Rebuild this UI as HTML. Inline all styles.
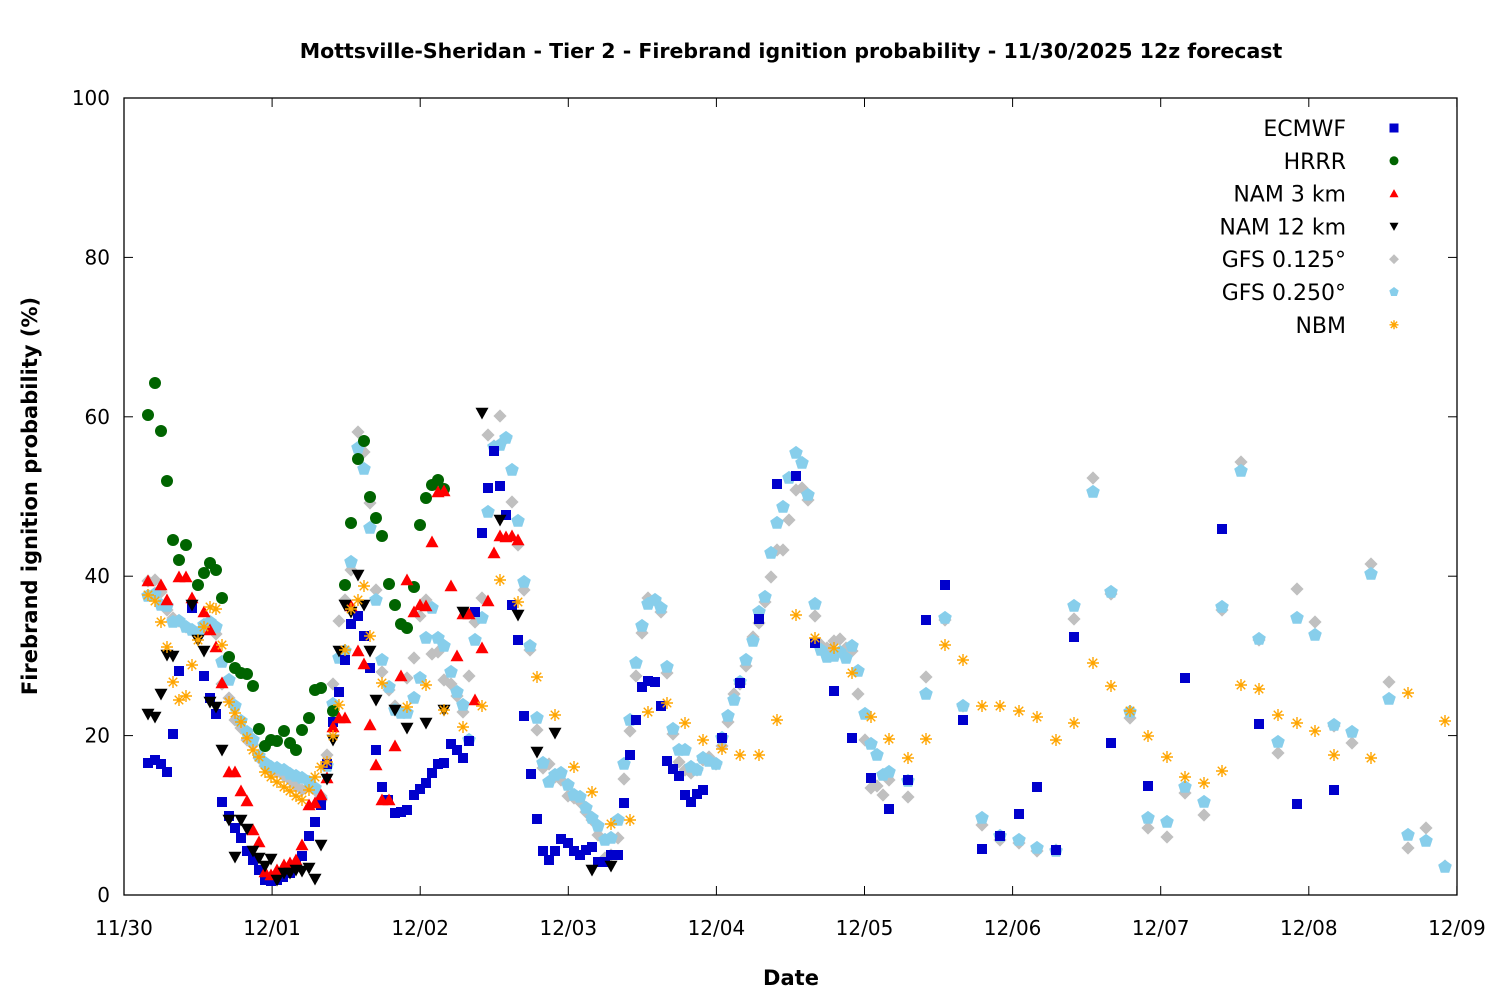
<!DOCTYPE html>
<html><head><meta charset="utf-8"><style>
html,body{margin:0;padding:0;background:#fff;}
svg{display:block;font-family:"DejaVu Sans","Liberation Sans",sans-serif;}
</style></head><body>
<svg id="s" width="1500" height="1000" xmlns="http://www.w3.org/2000/svg">
<rect width="1500" height="1000" fill="#fff"/>
<text x="791" y="58" text-anchor="middle" font-size="20.5" font-weight="bold">Mottsville-Sheridan - Tier 2 - Firebrand ignition probability - 11/30/2025 12z forecast</text>
<text x="791" y="985" text-anchor="middle" font-size="21" font-weight="bold">Date</text>
<text transform="translate(37,496) rotate(-90)" text-anchor="middle" font-size="21" font-weight="bold">Firebrand ignition probability (%)</text>
<g id="ax"></g>
<g id="pts"></g>
<g id="leg" font-size="22" text-anchor="end"></g>
<rect x="124" y="98" width="1333" height="797" fill="none" stroke="#000" stroke-width="1.3"/>
</svg>
<script>
var NS="http://www.w3.org/2000/svg";
function el(t,a,p){var e=document.createElementNS(NS,t);for(var k in a)e.setAttribute(k,a[k]);(p||document.getElementById('pts')).appendChild(e);return e;}
var ax=document.getElementById('ax');
for(var i=0;i<=5;i++){var y=895-i*159.4;
el('line',{x1:124,x2:133,y1:y,y2:y,stroke:'#000'},ax);el('line',{x1:1448,x2:1457,y1:y,y2:y,stroke:'#000'},ax);
var t=el('text',{x:110,y:y+7,'text-anchor':'end','font-size':20},ax);t.textContent=i*20;}
var lab=['11/30','12/01','12/02','12/03','12/04','12/05','12/06','12/07','12/08','12/09'];
for(var i=0;i<=9;i++){var x=124+i*148.1;
el('line',{x1:x,x2:x,y1:895,y2:886,stroke:'#000'},ax);el('line',{x1:x,x2:x,y1:98,y2:107,stroke:'#000'},ax);
var t=el('text',{x:x,y:935,'text-anchor':'middle','font-size':20},ax);t.textContent=lab[i];}
function P(s){return s.trim().split(/\s*;\s*/).map(function(p){return p.split(',').map(Number);});}
function mk(type,x,y,s){
 if(type=='sq')el('rect',{x:x-s/2,y:y-s/2,width:s,height:s,fill:'#0000cc'});
 else if(type=='ci')el('circle',{cx:x,cy:y,r:s/2,fill:'#006400'});
 else if(type=='tu')el('polygon',{points:(x-s/2)+','+(y+s*0.4)+' '+(x+s/2)+','+(y+s*0.4)+' '+x+','+(y-s*0.5),fill:'#ff0000'});
 else if(type=='td')el('polygon',{points:(x-s/2)+','+(y-s*0.4)+' '+(x+s/2)+','+(y-s*0.4)+' '+x+','+(y+s*0.5),fill:'#000'});
 else if(type=='di')el('polygon',{points:x+','+(y-s*0.55)+' '+(x+s*0.55)+','+y+' '+x+','+(y+s*0.55)+' '+(x-s*0.55)+','+y,fill:'#c0c0c0'});
 else if(type=='pe'){var pts=[];for(var k=0;k<5;k++){var a=-Math.PI/2+k*2*Math.PI/5;pts.push((x+s*0.55*Math.cos(a))+','+(y+s*0.55*Math.sin(a)));}el('polygon',{points:pts.join(' '),fill:'#87ceeb'});}
 else if(type=='as'){var d='';for(var k=0;k<4;k++){var a=k*Math.PI/4;var dx=s*0.5*Math.cos(a),dy=s*0.5*Math.sin(a);d+='M'+(x-dx)+' '+(y-dy)+'L'+(x+dx)+' '+(y+dy);}el('path',{d:d,stroke:'#ffa500','stroke-width':1.4,fill:'none'});}
}
var D={
di:P("148,581;155,580;161,592;167,610;173,618;179,621;186,627;192,630;198,636;204,628;210,627;216,634;222,684;229,698;235,720;241,728;247,740;253,745;259,758;265,766;271,770;277,772;284,776;290,780;296,786;302,790;309,786;315,790;321,796;327,755;333,684;339,621;345,600;351,570;358,432;364,452;370,503;376,590;382,672;389,690;395,706;401,712;407,678;414,658;420,616;426,600;432,654;438,652;444,680;451,684;457,696;463,712;469,676;475,622;482,598;488,435;494,446;500,416;506,438;512,502;518,545;524,590;530,650;537,730;543,768;549,764;555,777;561,780;568,796;574,798;580,802;586,812;592,820;598,835;605,858;611,855;618,838;624,779;630,731;636,676;642,633;648,598;655,600;661,612;667,673;673,734;679,762;685,770;691,773;697,770;703,760;709,757;716,764;722,746;728,722;734,694;740,684;746,666;753,637;759,623;765,602;771,577;777,550;783,550;789,520;796,490;802,488;808,500;815,616;821,645;827,648;834,641;840,639;846,648;852,651;858,694;865,740;871,788;877,786;883,795;889,780;908,797;926,677;945,620;963,706;982,825;1000,840;1019,843;1037,851;1056,850;1074,619;1093,478;1111,594;1130,718;1148,828;1167,837;1185,793;1204,815;1222,610;1241,462;1259,640;1278,753;1297,589;1315,622;1334,726;1352,743;1371,564;1389,682;1408,848;1426,828;1445,866"),
pe:P("148,596;155,594;161,605;167,606;173,622;179,621;186,627;192,630;198,633;204,625;210,622;216,627;222,662;229,680;235,706;241,721;247,732;253,740;259,756;265,763;271,767;277,768;284,770;290,774;296,776;302,778;309,782;315,788;321,800;327,766;333,704;339,658;345,651;351,562;358,448;364,469;370,528;376,600;382,660;389,687;395,710;401,713;407,713;414,698;420,678;426,638;432,608;438,638;444,646;451,672;457,692;463,705;469,740;475,640;482,618;488,512;494,447;500,445;506,438;512,470;518,521;524,582;530,646;537,718;543,763;549,782;555,775;561,773;568,785;574,795;580,797;586,808;592,818;598,826;605,840;611,838;618,820;624,764;630,720;636,663;642,626;648,604;655,600;661,608;667,667;673,729;679,750;685,750;691,767;697,770;703,758;709,761;716,764;722,738;728,716;734,700;740,682;746,660;753,641;759,612;765,597;771,553;777,523;783,507;789,478;796,453;802,463;808,495;815,604;821,650;827,657;834,656;840,652;846,658;852,646;858,671;865,714;871,744;877,755;883,775;889,772;908,781;926,694;945,618;963,706;982,818;1000,836;1019,840;1037,848;1056,851;1074,606;1093,492;1111,592;1130,712;1148,818;1167,822;1185,787;1204,802;1222,607;1241,471;1259,639;1278,742;1297,618;1315,635;1334,725;1352,732;1371,574;1389,699;1408,835;1426,841;1445,867"),
sq:P("148,763;155,760;161,764;167,772;173,734;179,671;192,608;204,676;210,698;216,714;222,802;229,816;235,828;241,838;247,851;253,860;259,870;265,880;271,881;277,880;283,877;290,873;296,866;302,856;309,836;315,822;321,805;327,764;333,722;339,692;345,660;351,624;358,616;364,636;370,668;376,750;382,787;388,800;395,813;401,812;407,810;414,795;420,789;426,783;432,773;438,764;444,763;451,744;457,750;463,758;469,741;475,612;482,533;488,488;494,451;500,486;506,515;512,605;518,640;524,716;531,774;537,819;543,851;549,860;555,851;561,839;568,843;574,851;580,855;586,850;592,847;598,862;605,862;611,855;618,855;624,803;630,755;636,720;642,687;648,681;655,682;661,706;667,761;673,769;679,776;685,795;691,802;697,794;703,790;722,738;740,683;759,619;777,484;796,476;815,643;834,691;852,738;871,778;889,809;908,780;926,620;945,585;963,720;982,849;1000,836;1019,814;1037,787;1056,850;1074,637;1111,743;1148,786;1185,678;1222,529;1259,724;1297,804;1334,790"),
ci:P("148,415;155,383;161,431;167,481;173,540;179,560;186,545;198,585;204,573;210,563;216,570;222,598;229,657;235,668;241,673;247,674;253,686;259,729;265,746;271,740;277,741;284,731;290,743;296,750;302,730;309,718;315,690;321,688;333,711;345,585;351,523;358,459;364,441;370,497;376,518;382,536;389,584;395,605;401,624;407,628;414,587;420,525;426,498;432,485;438,480;444,489"),
tu:P("148,581;161,585;167,600;179,577;186,577;192,598;204,612;210,630;216,647;222,683;229,772;235,772;241,791;247,801;253,830;259,842;265,872;271,875;277,870;284,865;290,863;296,860;302,845;309,805;315,803;321,795;327,778;333,727;339,718;345,718;351,606;358,651;364,664;370,725;376,765;382,800;389,800;395,746;401,676;407,580;414,612;420,605;426,606;432,542;438,492;444,491;451,586;457,656;463,614;469,614;475,700;482,648;488,601;494,553;500,536;506,537;512,536;518,540"),
td:P("148,714;155,717;161,694;167,655;173,656;192,605;198,640;204,651;210,702;216,707;222,750;229,820;235,857;241,820;247,829;253,851;259,858;265,866;271,859;277,880;284,873;290,873;296,870;302,871;309,868;315,879;321,845;327,779;333,740;339,651;345,605;351,612;358,575;364,605;370,651;376,700;395,710;407,728;426,723;444,710;463,612;482,413;500,520;518,615;537,752;555,733;592,870;611,866"),
as:P("148,595;155,601;161,622;167,647;173,682;179,700;186,696;192,665;198,640;204,627;210,607;216,609;222,645;229,702;235,713;241,722;247,738;253,750;259,757;265,772;271,777;277,782;284,787;290,791;296,796;302,800;309,790;315,777;321,767;327,762;333,736;339,705;345,650;351,609;358,600;364,586;370,636;382,683;407,707;426,685;444,710;463,727;482,706;500,580;518,602;537,677;555,715;574,767;592,792;611,824;630,820;648,712;667,703;685,723;703,740;722,749;740,755;759,755;777,720;796,615;815,638;834,648;852,673;871,717;889,739;908,758;926,739;945,645;963,660;982,706;1000,706;1019,711;1037,717;1056,740;1074,723;1093,663;1111,686;1130,711;1148,736;1167,757;1185,777;1204,783;1222,771;1241,685;1259,689;1278,715;1297,723;1315,731;1334,755;1371,758;1408,693;1445,721")
};
var sz={sq:10,ci:12,tu:13,td:13,di:12,pe:13,as:12};
['di','pe','sq','ci','tu','td','as'].forEach(function(k){D[k].forEach(function(p){mk(k,p[0],p[1],sz[k]);});});
var leg=document.getElementById('leg');
var names=[['ECMWF','sq'],['HRRR','ci'],['NAM 3 km','tu'],['NAM 12 km','td'],['GFS 0.125°','di'],['GFS 0.250°','pe'],['NBM','as']];
names.forEach(function(n,i){var y=128+i*32.8;var t=el('text',{x:1346,y:y+8},leg);t.textContent=n[0];mk(n[1],1394,y,9);});
</script>
</body></html>
